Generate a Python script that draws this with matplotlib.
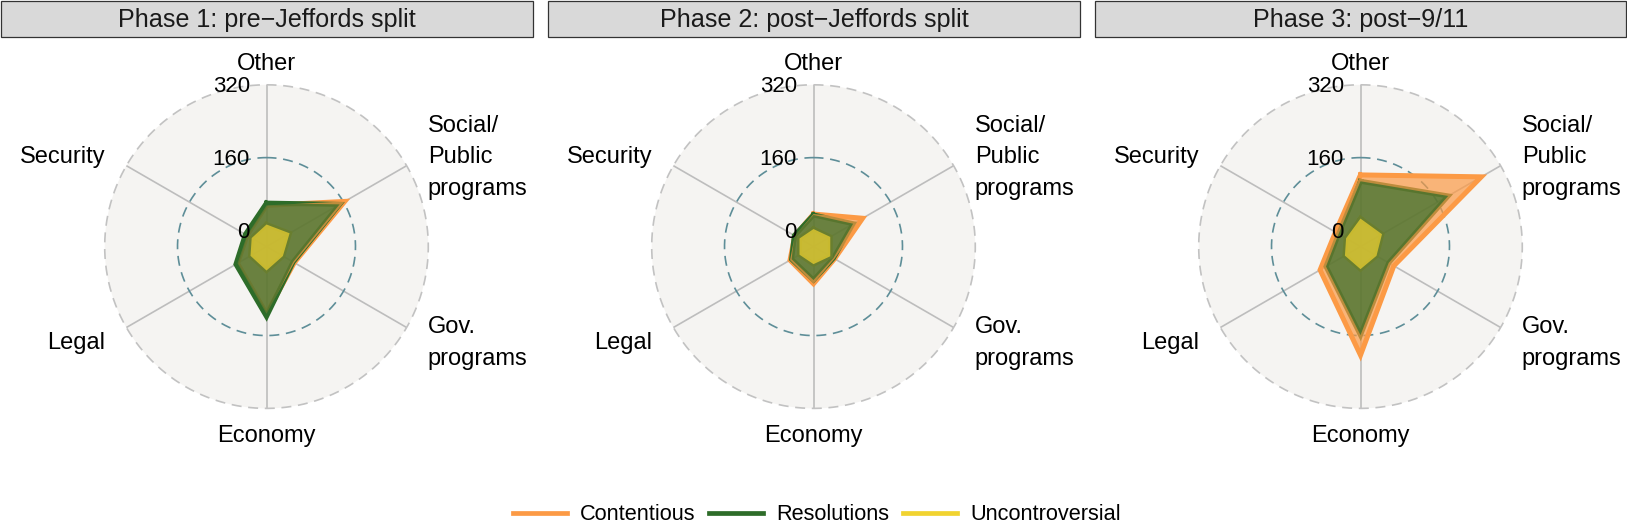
import numpy as np
import matplotlib.pyplot as plt
from matplotlib.lines import Line2D

plt.rcParams['font.family'] = ['Liberation Sans', 'DejaVu Sans']

# axes clockwise from the top
categories = ['Other', 'Social/\nPublic\nprograms', 'Gov.\nprograms', 'Economy', 'Legal', 'Security']
phases = ['Phase 1: pre\u2212Jeffords split', 'Phase 2: post\u2212Jeffords split', 'Phase 3: post\u22129/11']
groups = ['Contentious', 'Resolutions', 'Uncontroversial']
colors = ['#FC9A45', '#2D6C29', '#F1D330']

# one row per phase, values in category order
contentious = [[55, 163, 35, 112, 38, 14],
               [36, 89, 18, 46, 24, 12],
               [122, 271, 49, 203, 67, 28]]
resolutions = [[60, 150, 32, 118, 42, 18],
               [34, 65, 15, 38, 20, 13],
               [108, 187, 36, 159, 52, 20]]
uncontroversial = [[13, 23, 6, 17, 5, 2],
                   [3, 7, 7, 3, 0, 0],
                   [26, 19, 5, 14, 4, 1]]

grid_min, grid_mid, grid_max = 0, 160, 320
centre = grid_min - (grid_max - grid_min) / 9   # ggradar style inner offset

W, H = 1627, 530
fig = plt.figure(figsize=(W / 100, H / 100), dpi=100)

centres_x = [266.5, 813.5, 1360.5]
cy = 246.6
R = 161.8
strips = [(1, 533), (548, 1080), (1095, 1626)]

theta = np.arange(len(categories)) * 2 * np.pi / len(categories)
tt = np.linspace(0, 2 * np.pi, 500)
label_r = 1.15 * (grid_max - centre) + centre

for p in range(3):
    cx = centres_x[p]
    ax = fig.add_axes([(cx - R) / W, (H - cy - R) / H, 2 * R / W, 2 * R / H], projection='polar')
    ax.set_theta_zero_location('N')
    ax.set_theta_direction(-1)
    ax.set_ylim(centre, grid_max)
    ax.set_facecolor('#F5F4F2')
    ax.grid(False)
    ax.set_xticks([])
    ax.set_yticks([])
    ax.spines['polar'].set_visible(False)

    for t in theta:
        ax.plot([t, t], [centre, grid_max], color='#BDBDBD', lw=1.2, zorder=1)
    ax.plot(tt, np.full_like(tt, grid_max), color='#C2C2C2', lw=1.2, ls=(0, (6, 4)), clip_on=False, zorder=1)
    ax.plot(tt, np.full_like(tt, grid_mid), color='#5E8E98', lw=1.2, ls=(0, (6, 4)), zorder=1)

    series = [contentious[p], resolutions[p], uncontroversial[p]]
    # lines first, then the filled polygons on top (like ggradar)
    for vals, c in zip(series, colors):
        v = np.append(vals, vals[0])
        th = np.append(theta, theta[0])
        ax.plot(th, v, color=c, lw=3.6, solid_joinstyle='miter', zorder=2)
    for vals, c in zip(series, colors):
        ax.fill(theta, vals, color=c, alpha=0.7, lw=0, zorder=3)

    for val in [grid_min, grid_mid, grid_max]:
        ax.annotate(str(val), xy=(0, val), xytext=(-12, -1.5), textcoords='offset points',
                    ha='right', va='center', fontsize=16, color='black',
                    annotation_clip=False, zorder=5)

    for t, lab in zip(theta, categories):
        s = np.sin(t)
        if abs(s) < 1e-6:
            ha = 'center'
        elif s > 0:
            ha = 'left'
        else:
            ha = 'right'
        ax.annotate(lab, xy=(t, label_r), xytext=(0, -2.5), textcoords='offset points',
                    ha=ha, va='center', fontsize=17, linespacing=1.56,
                    annotation_clip=False)

    x0, x1 = strips[p]
    fig.add_artist(plt.Rectangle((x0 / W, 1 - 37 / H), (x1 - x0) / W, 36 / H,
                                 transform=fig.transFigure, facecolor='#D9D9D9',
                                 edgecolor='#333333', lw=0.9))
    fig.text((x0 + x1) / 2 / W, 1 - 19.5 / H, phases[p], ha='center', va='center',
             fontsize=18.1, color='#1A1A1A')

handles = [Line2D([], [], color=c, lw=3.4) for c in colors]
fig.legend(handles, groups, loc='center', bbox_to_anchor=(0.502, 1 - 515 / H), ncol=3,
           frameon=False, fontsize=15.7, handlelength=2.5, handletextpad=0.6, columnspacing=0.6)

fig.savefig('out.png', dpi=100)
